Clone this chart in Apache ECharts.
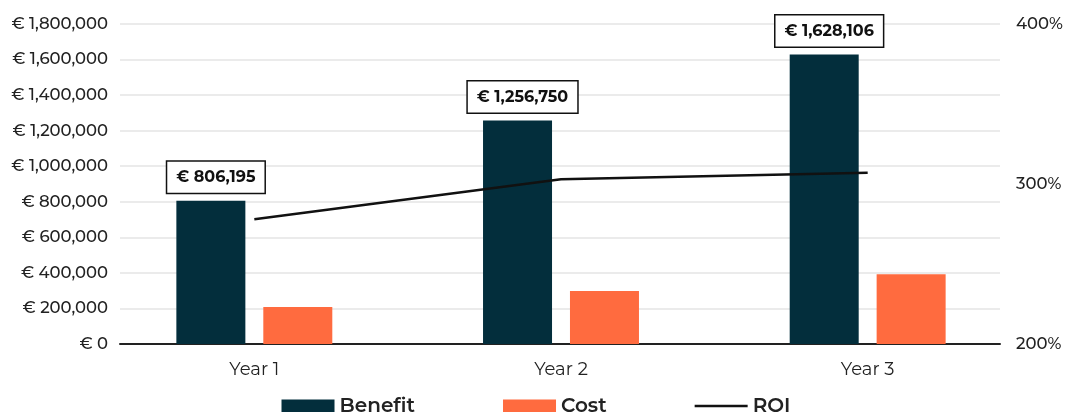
<!DOCTYPE html>
<html>
<head>
<meta charset="utf-8">
<script src="https://cdn.jsdelivr.net/npm/echarts@6/dist/echarts.min.js"></script>
<style>
html,body{margin:0;padding:0;background:#fff;}
#chart{width:1072px;height:412px;}
</style>
</head>
<body>
<div id="chart"></div>
<script>
const categories = ['Year 1', 'Year 2', 'Year 3'];
const benefit = [806195, 1256750, 1628106];
const cost = [208000, 298000, 392000];
const roi = [278, 303, 307];

const FONT = "Montserrat, 'Open Sans', sans-serif";
const euro = v => '€ ' + Number(v).toLocaleString('en-US');

const chart = echarts.init(document.getElementById('chart'), null, {renderer: 'canvas'});
chart.setOption({
  animation: false,
  backgroundColor: '#ffffff',
  textStyle: {fontFamily: FONT},
  legend: {
    data: [
      {name: 'Benefit', icon: 'rect'},
      {name: 'Cost', icon: 'rect'},
      {name: 'ROI', icon: 'path://M0,0 L40,0 L40,2 L0,2 Z'}
    ],
    top: 396,
    left: 'center',
    padding: 0,
    itemWidth: 53,
    itemHeight: 13,
    itemGap: 88,
    textStyle: {fontSize: 20, color: '#222', fontWeight: 600, fontFamily: FONT}
  },
  grid: [
    {left: 120, right: 72, top: 24, bottom: 68},
    {left: 101, right: 51, top: 24, bottom: 68}
  ],
  xAxis: [
    {gridIndex: 0, type: 'category', data: categories,
     axisLine: {lineStyle: {color: '#222', width: 2}},
     axisTick: {show: false}, axisLabel: {show: false}, splitLine: {show: false}},
    {gridIndex: 1, type: 'category', data: categories,
     axisLine: {show: false}, axisTick: {show: false},
     axisLabel: {fontSize: 18, color: '#222', margin: 17, fontFamily: FONT}}
  ],
  yAxis: [
    {gridIndex: 0, type: 'value', min: 0, max: 1800000, interval: 200000,
     axisLine: {show: false}, axisTick: {show: false},
     axisLabel: {formatter: euro, fontSize: 16.5, fontWeight: 500, color: '#222', margin: 12, fontFamily: FONT},
     splitLine: {lineStyle: {color: '#e4e4e4', width: 1.5}}},
    {gridIndex: 0, type: 'value', position: 'right', min: 200, max: 400, interval: 100,
     axisLine: {show: false}, axisTick: {show: false},
     axisLabel: {formatter: '{value}%', fontSize: 16.5, fontWeight: 500, color: '#222', margin: 16, fontFamily: FONT},
     splitLine: {show: false}},
    {gridIndex: 1, type: 'value', min: 0, max: 1800000, show: false, splitLine: {show: false}},
    {gridIndex: 1, type: 'value', min: 200, max: 400, show: false, splitLine: {show: false}}
  ],
  series: [
    {name: 'Benefit', type: 'bar', xAxisIndex: 1, yAxisIndex: 2, data: benefit,
     barWidth: 69, barGap: '26%',
     itemStyle: {color: '#032e3c'},
     label: {show: true, position: 'top', distance: 8, offset: [5, 0],
       formatter: p => euro(p.value),
       fontSize: 16, fontWeight: 'bold', color: '#111', fontFamily: FONT,
       backgroundColor: '#fff', borderColor: '#111', borderWidth: 1.5,
       padding: [8, 9, 7, 9]}},
    {name: 'Cost', type: 'bar', xAxisIndex: 1, yAxisIndex: 2, data: cost,
     barWidth: 69,
     itemStyle: {color: '#ff6b3f'}},
    {name: 'ROI', type: 'line', xAxisIndex: 1, yAxisIndex: 3, data: roi,
     symbol: 'none', lineStyle: {color: '#111', width: 2.5},
     itemStyle: {color: '#111'}}
  ]
});
</script>
</body>
</html>
